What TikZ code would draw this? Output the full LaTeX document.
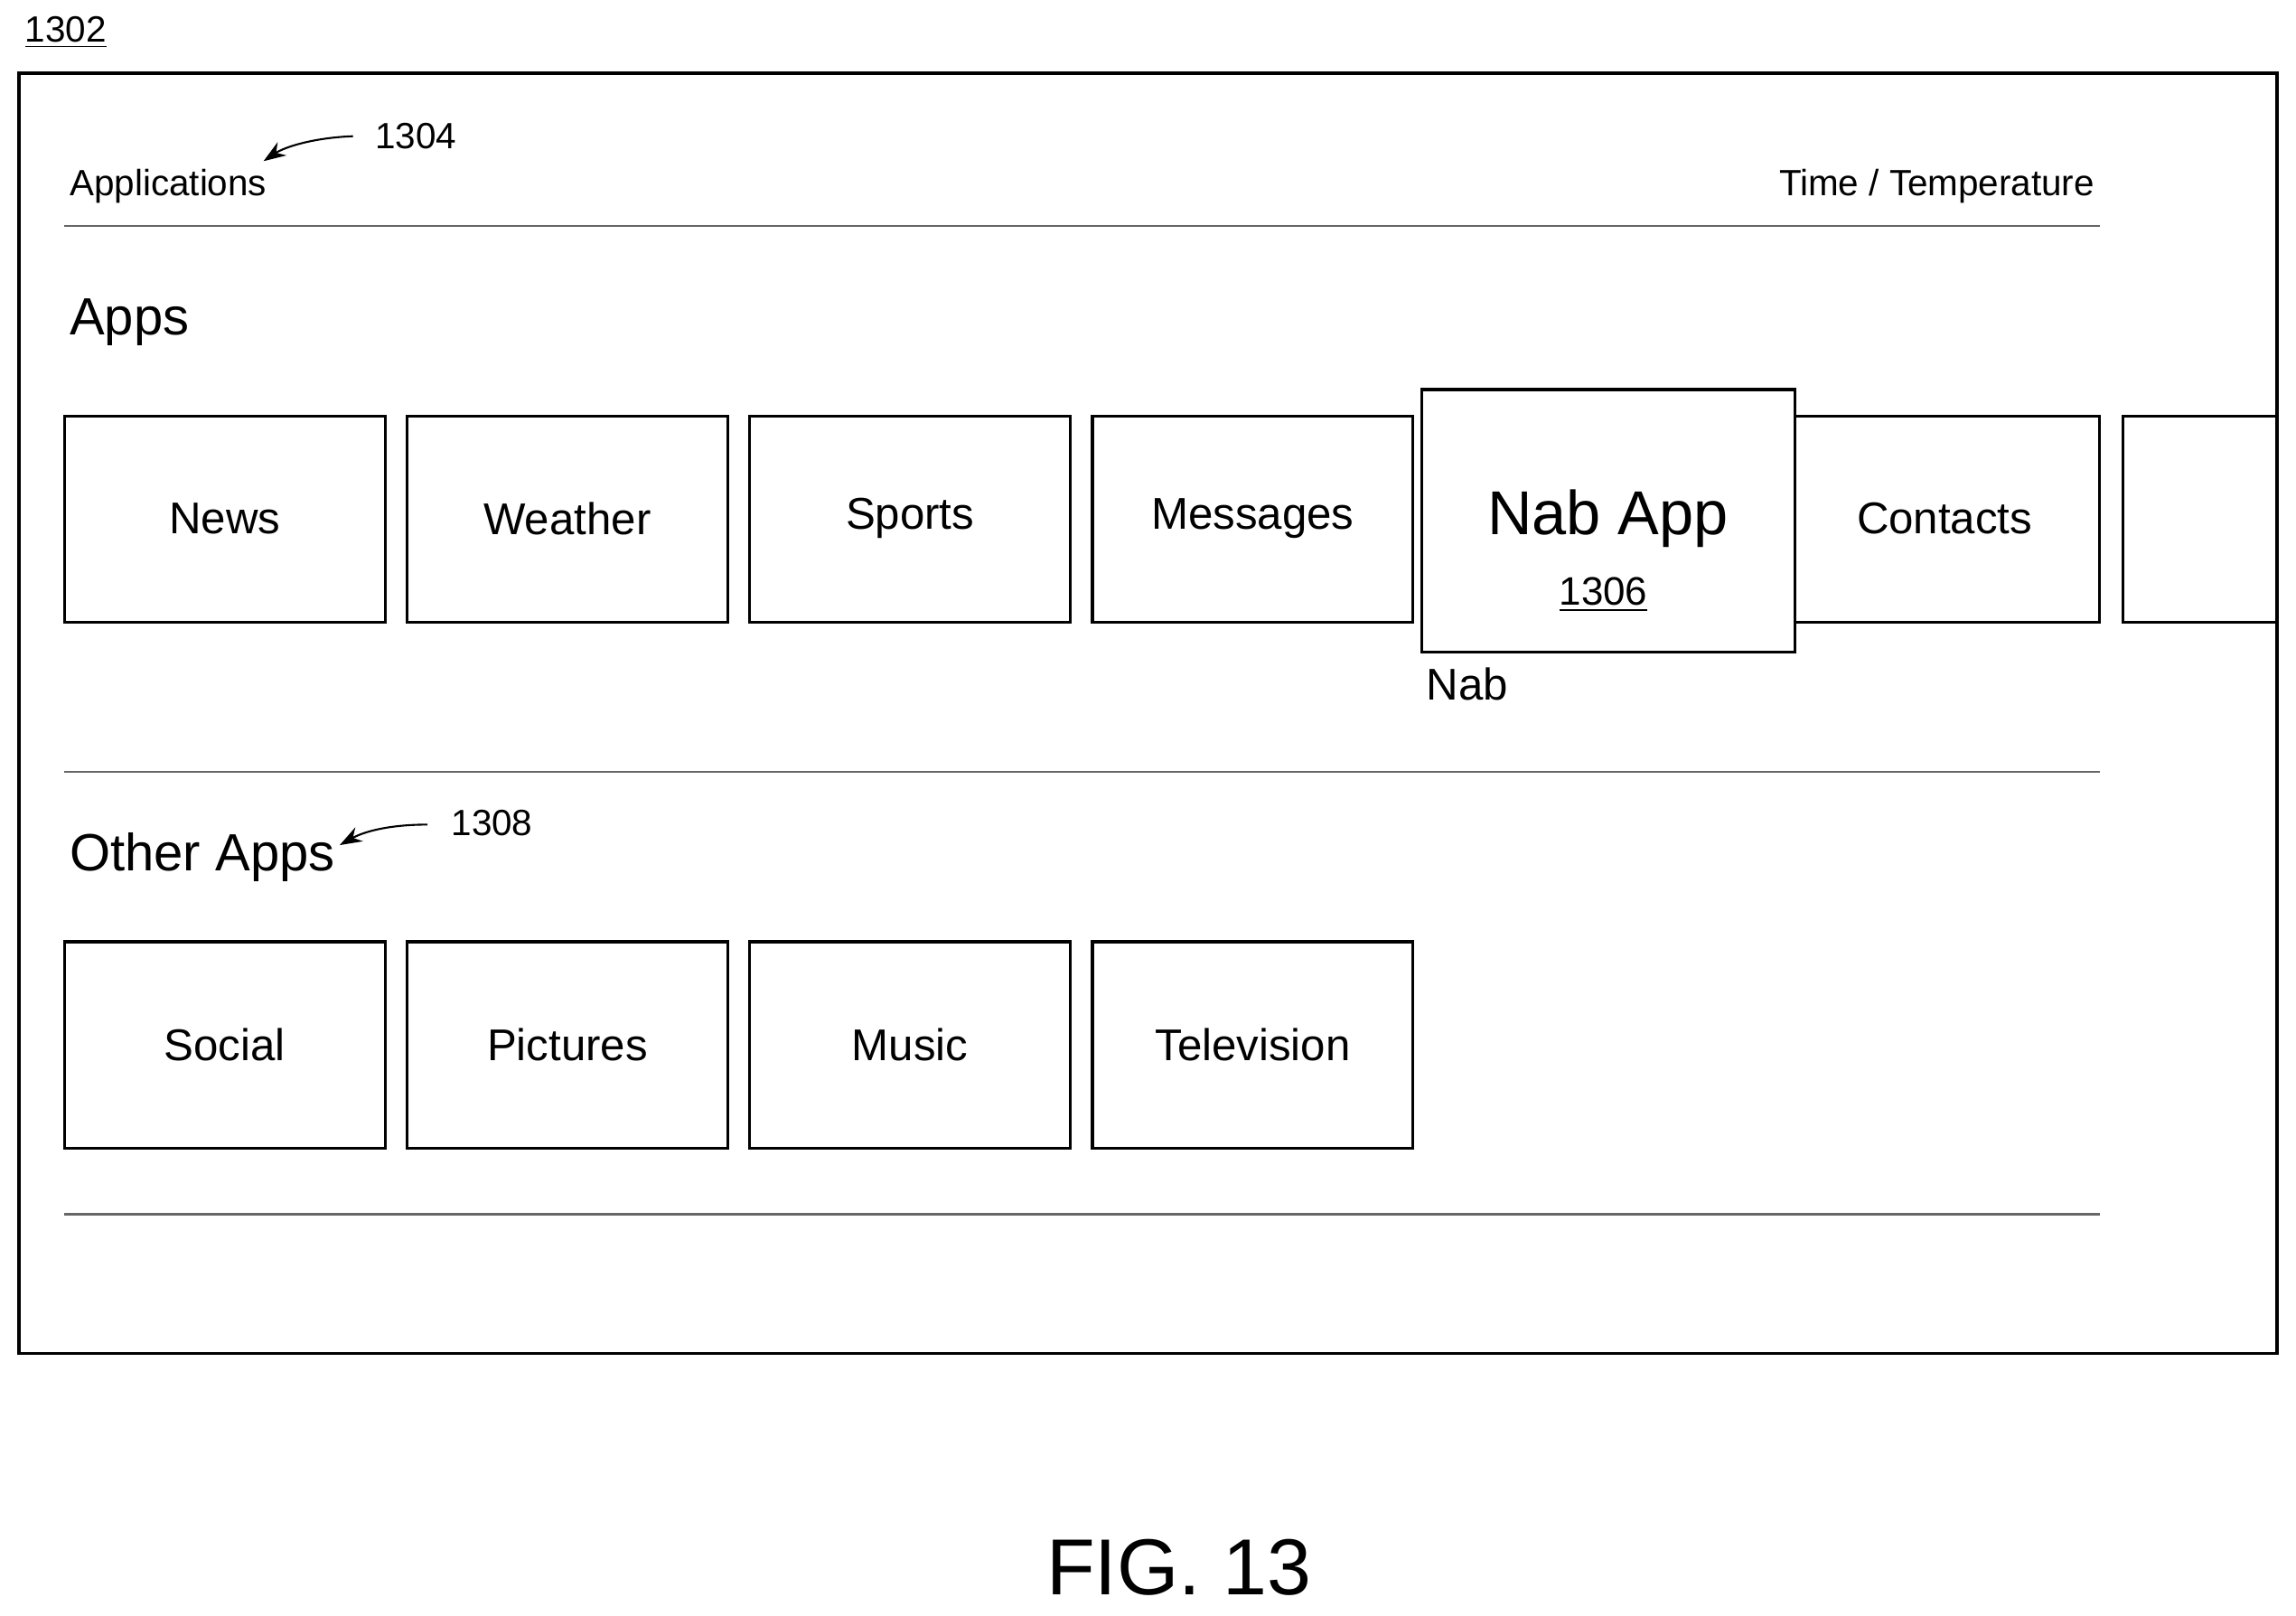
\documentclass[tikz,border=0pt]{standalone}
\usepackage{fontspec}
\setmainfont{Liberation Sans}
\usetikzlibrary{arrows.meta}
\begin{document}
\begin{tikzpicture}[x=0.016205cm,y=-0.016205cm,
  box/.style={draw,line width=0.9pt,inner sep=0pt},
  lbl/.style={font=\fontsize{14}{16}\selectfont},
  sep/.style={draw=black!60,line width=0.6pt},
  ref/.style={-{Stealth[length=7pt,width=5pt]},line width=0.6pt}]
\useasboundingbox (0,0) rectangle (1568,1103);
\node[font=\fontsize{11.5}{13}\selectfont] (n1302) at (45,22) {\underline{1302}};
\draw[line width=0.9pt] (13,50) rectangle (1555,924);
\node[anchor=west,font=\fontsize{11.5}{13}\selectfont] (appl) at (40,127) {Applications};
\node[anchor=east,font=\fontsize{11.5}{13}\selectfont] (time) at (1438,127) {Time / Temperature};
\node[font=\fontsize{11.5}{13}\selectfont] (n1304) at (284,93) {1304};
\coordinate (a1) at (241,93);
\coordinate (a1e) at (180,110);
\draw[ref] (a1) .. controls (215,94) and (195,100) .. (a1e);
\draw[sep] (44,154) -- (1434,154);
\node[anchor=west,font=\fontsize{16.5}{19}\selectfont] (apps) at (40,220) {Apps};
\foreach \n/\x/\t in {news/44/News,weather/278/Weather,sports/512/Sports,messages/746/Messages}{
  \draw[box] (\x,284) rectangle (\x+219,425);
  \node[lbl] (\n) at (\x+109.5,354) {\t};
}
\draw[box] (1226,284) rectangle (1434,425);
\node[lbl] (contacts) at (1328,354) {Contacts};
\draw[box] (1555,284) -- (1450,284) -- (1450,425) -- (1555,425);
\draw[box,fill=white] (971,266) rectangle (1226,445);
\node[font=\fontsize{19.5}{22}\selectfont] (nab) at (1098,354) {Nab App};
\node[font=\fontsize{12.5}{14}\selectfont] (n1306) at (1095,406) {\underline{1306}};
\node[lbl] (nablbl) at (1002,467) {Nab};
\draw[sep] (44,527) -- (1434,527);
\node[anchor=west,font=\fontsize{16.5}{19}\selectfont] (other) at (40,585) {Other Apps};
\node[font=\fontsize{11.5}{13}\selectfont] (n1308) at (336,562) {1308};
\coordinate (a2) at (292,563);
\coordinate (a2e) at (232,577);
\draw[ref] (a2) .. controls (268,563) and (250,567) .. (a2e);
\foreach \n/\x/\t in {social/44/Social,pictures/278/Pictures,music/512/Music,tv/746/Television}{
  \draw[box] (\x,643) rectangle (\x+219,784);
  \node[lbl] (\n) at (\x+109.5,713) {\t};
}
\draw[sep] (44,829) -- (1434,829);
\node[font=\fontsize{25}{28}\selectfont] (fig) at (805,1070) {FIG. 13};
\end{tikzpicture}
\end{document}
